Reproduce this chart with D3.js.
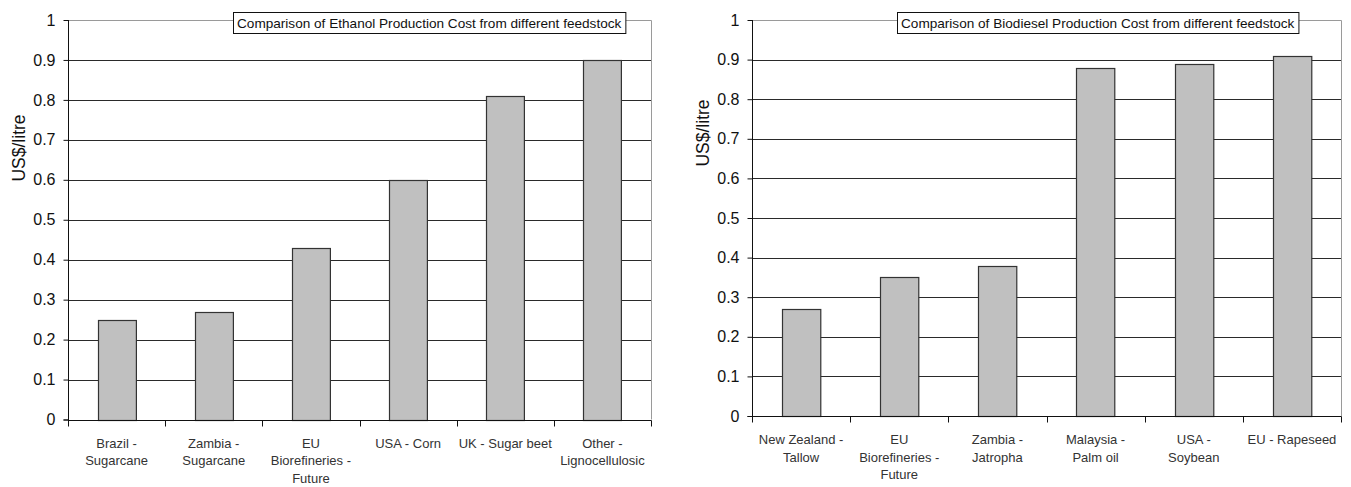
<!DOCTYPE html>
<html>
<head>
<meta charset="utf-8">
<script src="https://cdn.jsdelivr.net/npm/d3@7"></script>
<style>
  body { margin: 0; background: #fff; }
  svg { display: block; font-family: "Liberation Sans", Arial, sans-serif; }
</style>
</head>
<body>
<svg id="chart" width="1351" height="487"></svg>
<script>
// ethanol (left)
const ethanolCategories = [
  ["Brazil -", "Sugarcane"],
  ["Zambia -", "Sugarcane"],
  ["EU", "Biorefineries -", "Future"],
  ["USA - Corn"],
  ["UK - Sugar beet"],
  ["Other -", "Lignocellulosic"]
];
const ethanolValues = [0.25, 0.27, 0.43, 0.60, 0.81, 0.90];

// biodiesel (right)
const biodieselCategories = [
  ["New Zealand -", "Tallow"],
  ["EU", "Biorefineries -", "Future"],
  ["Zambia -", "Jatropha"],
  ["Malaysia -", "Palm oil"],
  ["USA -", "Soybean"],
  ["EU - Rapeseed"]
];
const biodieselValues = [0.27, 0.35, 0.38, 0.88, 0.89, 0.91];

const yTicks = [0, 0.1, 0.2, 0.3, 0.4, 0.5, 0.6, 0.7, 0.8, 0.9, 1];

const svg = d3.select("#chart");

function drawChart(cfg) {
  const g = svg.append("g");
  const x = d3.scaleBand()
    .domain(cfg.categories.map((d, i) => i))
    .range([cfg.left, cfg.right])
    .paddingInner(0.61)
    .paddingOuter(0.305);
  const xTicks = d3.scaleBand()
    .domain(cfg.categories.map((d, i) => i))
    .range([cfg.left, cfg.right]);
  const y = d3.scaleLinear().domain([0, 1]).range([cfg.bottom, cfg.top]);

  // gridlines
  g.append("g").selectAll("line")
    .data(yTicks.filter(t => t > 0 && t < 1))
    .join("line")
    .attr("x1", cfg.left).attr("x2", cfg.right)
    .attr("y1", d => Math.round(y(d)) + 0.5).attr("y2", d => Math.round(y(d)) + 0.5)
    .attr("stroke", "#2a2a2a")
    .attr("stroke-width", 1);

  // plot border (top and right)
  g.append("path")
    .attr("d", `M${cfg.left},${Math.round(y(1)) + 0.5}H${cfg.right + 0.5}V${cfg.bottom}`)
    .attr("fill", "none")
    .attr("stroke", "#9a9a9a");

  // bars
  g.append("g").selectAll("rect")
    .data(cfg.values)
    .join("rect")
    .attr("x", (d, i) => Math.round(x(i)) + 0.5)
    .attr("width", x.bandwidth())
    .attr("y", d => Math.round(y(d)) + 0.5)
    .attr("height", d => Math.round(cfg.bottom) - Math.round(y(d)))
    .attr("fill", "#c0c0c0")
    .attr("stroke", "#333")
    .attr("stroke-width", 1.2);

  // y axis
  const yAxis = d3.axisLeft(y).tickValues(yTicks).tickSize(5).tickPadding(8)
    .tickFormat(d => d === 0 ? "0" : d === 1 ? "1" : d3.format(".1f")(d));
  const yG = g.append("g")
    .attr("transform", `translate(${cfg.left + 0.5},0)`)
    .call(yAxis);
  yG.select(".domain").attr("stroke", "#111").attr("d", `M-5,${cfg.bottom + 0.5}H0V${y(1)}`);
  yG.selectAll(".tick line").attr("stroke", "#111");
  yG.selectAll(".tick text").attr("font-size", 16).attr("fill", "#111")
    .attr("font-family", "'Liberation Sans', Arial, sans-serif");

  // x axis
  const xAxis = d3.axisBottom(xTicks).tickSize(0).tickFormat("");
  const xG = g.append("g")
    .attr("transform", `translate(0,${Math.round(cfg.bottom) + 0.5})`)
    .call(xAxis);
  xG.select(".domain").attr("stroke", "#111").attr("d", `M${cfg.left},0H${cfg.right + 0.5}`);
  xG.selectAll(".tick").remove();
  xG.selectAll("line.sep")
    .data(d3.range(cfg.categories.length + 1))
    .join("line")
    .attr("class", "sep")
    .attr("x1", i => Math.round(cfg.left + i * xTicks.step()) + 0.5)
    .attr("x2", i => Math.round(cfg.left + i * xTicks.step()) + 0.5)
    .attr("y1", 0).attr("y2", 6)
    .attr("stroke", "#111");

  // category labels
  const lab = g.append("g").selectAll("text")
    .data(cfg.categories)
    .join("text")
    .attr("x", (d, i) => xTicks(i) + xTicks.bandwidth() / 2)
    .attr("y", cfg.bottom + 28)
    .attr("text-anchor", "middle")
    .attr("font-size", 13)
    .attr("fill", "#333");
  lab.selectAll("tspan")
    .data(d => d)
    .join("tspan")
    .attr("x", function () { return d3.select(this.parentNode).attr("x"); })
    .attr("dy", (d, i) => i === 0 ? 0 : 17.5)
    .text(d => d);

  // y label
  g.append("text")
    .attr("transform", `translate(${cfg.left - 43},${cfg.yLabelY}) rotate(-90)`)
    .attr("text-anchor", "middle")
    .attr("font-size", 17.5)
    .attr("fill", "#111")
    .text("US$/litre");

  // title box
  const tg = g.append("g");
  const box = tg.append("rect")
    .attr("x", cfg.titleX + 0.5)
    .attr("y", 12.5)
    .attr("height", 21)
    .attr("fill", "#fff")
    .attr("stroke", "#111");
  const t = tg.append("text")
    .attr("x", cfg.titleX + 4)
    .attr("y", 28)
    .attr("font-size", 13.6)
    .attr("fill", "#111")
    .text(cfg.title);
  box.attr("width", t.node().getComputedTextLength() + 8);
}

drawChart({
  categories: ethanolCategories,
  values: ethanolValues,
  left: 68, right: 651, top: 20, bottom: 419.5,
  yLabelY: 148,
  titleX: 233,
  title: "Comparison of Ethanol Production Cost from different feedstock"
});

drawChart({
  categories: biodieselCategories,
  values: biodieselValues,
  left: 752, right: 1341, top: 20, bottom: 416,
  yLabelY: 133,
  titleX: 897,
  title: "Comparison of Biodiesel Production Cost from different feedstock"
});
</script>
</body>
</html>
